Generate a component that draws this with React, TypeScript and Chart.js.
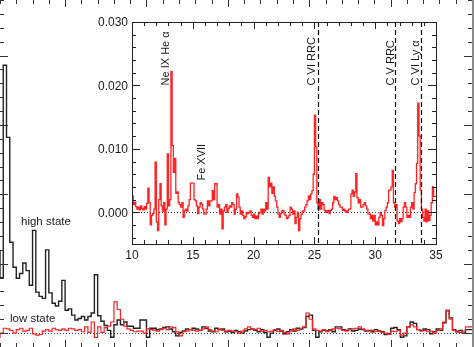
import React, { useEffect, useRef } from "react";
import { Chart, registerables } from "chart.js";
Chart.register(...registerables);

// ---------- main panel (wavelength in Å, 0.2 Å bins from 6.0 Å) ----------
const mainBinStart = 6.0;
const mainBinWidth = 0.2;
const highState = [
  12, 8, 38.6, 28.2, 13.1, // 6
  9.5, 7.9, 8.6, 10.1, 9.0, // 7
  6.9, 14.8, 5.9, 5.3, 5.0, // 8
  12.0, 5.8, 4.3, 3.9, 4.6, // 9
  7.6, 3.3, 3.5, 2.6, 1.9, // 10
  2.1, 2.4, 1.9, 2.4, 2.9, // 11
  8.4, 2.5, 1.7, 1.1, 0.4, // 12
  -0.6, 1.2, 1.9, 1.2, 1.6, // 13
  1.0, 1.0, 0.7, 0.7, 1.9, // 14
  1.9, -0.6, 0.7, 0.7, 0.5, // 15
  0.6, 0.8, 0.9, 0.6, 0.2, // 16
  -0.4, 0.1, 0.3, 0.6, 0.5, // 17
  0.7, 0.6, 0.4, 0.9, 0.7, // 18
  0.3, 0.2, 0.7, 0.5, 0.6, // 19
  0.2, 0.3, 0.1, 0.4, 0.2, // 20
  0.0, 0.3, 0.5, 0.6, 0.4, // 21
  0.2, 0.5, 0.1, -0.6, 0.0, // 22
  0.4, 0.6, 0.3, -0.1, 0.2, // 23
  0.5, 0.3, 0.7, 0.6, 0.8, // 24
  2.4, 2.6, 0.4, -0.6, 0.2, // 25
  0.4, 0.3, 0.5, 0.2, 0.9, // 26
  0.9, 0.5, 0.4, 0.6, 0.3, // 27
  0.4, 0.6, 0.5, 0.3, 0.4, // 28
  0.2, 0.5, 0.3, 0.2, -0.2, // 29
  -0.1, 0.7, 0.8, 0.5, -0.6, // 30
  -0.4, 0.9, 1.6, 1.4, 0.5, // 31
  0.4, 0.6, 0.5, -0.1, 0.2, // 32
  0.6, 0.4, 1.5, 3.2, 2.2, // 33
  0.5, 0.2, 0.4, 0.0, 0.5, // 34
];
const lowState = [
  -0.7, 0.0, 0.7, 0.6, 0.4, // 6
  0.0, 0.5, 0.7, 0.3, 0.4, // 7
  0.7, -0.1, -0.3, -0.2, 0.3, // 8
  0.5, 0.3, 0.7, 0.5, 0.4, // 9
  0.6, 0.4, 0.7, 0.6, 0.4, // 10
  0.5, 0.2, 0.9, 0.1, 1.6, // 11
  -0.6, 0.9, 0.1, 0.8, 1.0, // 12
  1.6, 4.5, 3.4, 2.0, 1.0, // 13
  0.6, 0.4, 0.2, 0.3, 0.3, // 14
  0.0, 0.6, 0.5, 0.4, 0.3, // 15
  0.5, 0.7, 0.5, 0.9, 0.8, // 16
  0.2, -0.4, 0.2, 0.3, 0.5, // 17
  0.4, 0.3, 0.4, 0.6, 0.9, // 18
  0.5, 0.3, 0.2, 0.6, 0.4, // 19
  0.3, 0.4, 0.3, 0.2, 0.0, // 20
  0.3, 0.6, 0.9, 0.6, 0.5, // 21
  0.7, 0.3, 0.4, 0.2, 0.3, // 22
  0.5, 0.2, 0.4, 0.1, -0.1, // 23
  0.3, 0.6, 0.4, 0.7, 0.9, // 24
  2.9, 2.0, 0.6, 0.4, 0.3, // 25
  0.5, 0.2, 0.4, 0.6, 0.7, // 26
  0.6, 0.4, 0.3, 0.5, 0.6, // 27
  0.7, 0.9, 0.6, 0.4, 0.3, // 28
  0.4, 0.2, 0.3, 0.1, 0.0, // 29
  -0.2, 0.3, 0.2, 0.4, -0.3, // 30
  0.0, 0.9, 1.2, 0.9, 0.5, // 31
  0.3, 0.4, 0.2, 0.3, 0.0, // 32
  0.4, 0.6, 1.6, 3.3, 2.0, // 33
  0.4, 0.3, 0.1, 0.3, 0.9, // 34
];
const mainXMin = 6;
const mainXMax = 35;
const mainYMin = -2;
const mainYMax = 48;
const stateLabels = ["high state", "low state"];
const stateLabelX = [7.29, 6.61];
const stateLabelY = [16, 2.0];

// ---------- inset (difference spectrum, 0.1 Å bins from 10 Å, values in 1e-3) ----------
const insetBinStart = 10.0;
const insetBinWidth = 0.1;
const insetFluxE3 = [
  1.5, 2.6, 1.2, 1.6, 0.9, 0.5, 0.8, 0.4, 1.0, 0.6, // 10
  0.4, 0.9, 0.5, 1.4, 3.8, 1.5, -2.0, -0.5, -0.2, 0.5, // 11
  7.9, -1.5, -2.9, 2.0, 4.5, 1.0, 0.2, 1.5, -2.0, 0.5, // 12
  9.2, 1.0, 2.0, 22.2, 10.5, 6.3, 8.5, 3.0, 3.2, 1.5, // 13
  1.2, 0.8, 1.5, -0.8, 0.3, 0.5, 0.2, 1.0, 2.0, 4.6, // 14
  4.6, 4.6, 2.0, 1.8, 1.0, -0.2, 0.8, 1.5, 1.3, 0.5, // 15
  -0.3, -0.3, 0.5, 1.8, 1.0, 1.8, 1.8, 3.4, 2.0, 4.5, // 16
  4.5, 0.8, 1.2, -0.3, 0.5, -2.6, 0.2, 0.8, 1.2, 0.0, // 17
  0.6, 1.0, 0.8, 1.5, 1.2, -0.3, 0.5, 2.9, 2.4, 0.8, // 18
  -0.3, 0.2, -0.5, -1.0, -0.7, 0.0, -0.2, 0.0, 0.2, -0.5, // 19
  -0.8, -0.3, -1.0, -0.6, -1.0, -0.2, 0.0, 0.5, -0.3, 0.5, // 20
  0.2, 1.5, 0.5, 5.5, 4.0, 4.6, 3.0, 4.0, 2.5, 1.8, // 21
  0.8, -0.3, -0.8, -0.2, 0.2, 0.3, -0.3, -0.5, -1.0, -0.8, // 22
  -0.5, 0.8, 0.5, -0.3, 0.2, -1.8, -0.8, 0.0, -2.9, -1.0, // 23
  -0.3, 0.2, 0.2, 0.8, 1.2, 1.8, 2.6, 2.0, 2.9, 3.4, // 24
  6.0, 15.3, 10.3, 1.5, 0.5, 2.0, 0.5, 1.5, 1.2, 0.3, // 25
  0.0, 0.2, 0.3, -0.2, 0.3, 0.5, 1.5, 2.5, 2.0, 2.3, // 26
  1.8, 1.2, 0.8, 0.8, 0.3, 0.5, 0.2, 0.0, 0.2, 0.5, // 27
  0.5, 2.9, 3.5, 2.5, 3.2, 6.1, 2.3, 1.5, 2.0, 0.8, // 28
  0.8, 1.2, 1.5, 1.0, 0.5, -0.3, -0.3, -1.0, -0.5, -1.4, // 29
  -0.5, -2.0, -1.5, -2.0, -0.8, 0.0, -0.5, -2.1, -1.0, 0.3, // 30
  0.8, 1.5, 3.5, 3.5, 4.0, 6.6, 1.5, 0.8, 1.2, -1.4, // 31
  -1.8, -1.0, -1.5, -1.0, 0.8, 1.5, 0.8, -0.8, -0.5, -0.8, // 32
  0.8, 1.5, 0.5, 3.1, 4.5, 7.7, 17.2, 12.0, 3.5, 0.5, // 33
  -0.8, -1.4, 0.5, -1.5, 0.2, -1.3, -0.5, 1.5, 4.0, 2.5, // 34
];
const insetXMin = 10;
const insetXMax = 35;
const insetYMin = -0.005;
const insetYMax = 0.03;
const insetXTickValues = [10, 15, 20, 25, 30, 35];
const insetXTickLabels = ["10", "15", "20", "25", "30", "35"];
const insetYTickValues = [0, 0.01, 0.02, 0.03];
const insetYTickLabels = ["0.000", "0.010", "0.020", "0.030"];
const edgeWavelengths = [25.3, 31.63, 33.74];
const lineLabels = ["Ne IX He α", "Fe XVII", "C VI RRC", "C V RRC", "C VI Ly α"];
const lineLabelX = [12.8, 15.76, 24.77, 31.33, 33.36];
const lineLabelY = [0.02, 0.005, 0.02, 0.02, 0.02];

const FONT = '"Liberation Sans", Arial, Helvetica, sans-serif';
const RED = "rgb(255,35,35)";
const INK = "#1a1a1a";

function histPoints(start: number, width: number, values: number[], k = 1) {
  const pts = values.map((v, i) => ({ x: start + i * width, y: v * k }));
  pts.push({ x: start + values.length * width, y: values[values.length - 1] * k });
  return pts;
}

function drawXTicks(ctx: any, sx: any, a: any, min: number, max: number, step: number, every: number, majLen: number, minLen: number, sides: string[]) {
  const k0 = Math.ceil(min / step - 1e-9);
  const k1 = Math.floor(max / step + 1e-9);
  ctx.beginPath();
  for (let k = k0; k <= k1; k++) {
    const px = Math.round(sx.getPixelForValue(k * step)) + 0.5;
    const len = k % every === 0 ? majLen : minLen;
    if (sides.includes("bottom")) { ctx.moveTo(px, a.bottom); ctx.lineTo(px, a.bottom - len); }
    if (sides.includes("top")) { ctx.moveTo(px, a.top); ctx.lineTo(px, a.top + len); }
  }
  ctx.stroke();
}

function drawYTicks(ctx: any, sy: any, a: any, min: number, max: number, step: number, every: number, majLen: number, minLen: number, sides: string[]) {
  const k0 = Math.ceil(min / step - 1e-9);
  const k1 = Math.floor(max / step + 1e-9);
  ctx.beginPath();
  for (let k = k0; k <= k1; k++) {
    const py = Math.round(sy.getPixelForValue(k * step)) + 0.5;
    const len = k % every === 0 ? majLen : minLen;
    if (sides.includes("left")) { ctx.moveTo(a.left, py); ctx.lineTo(a.left + len, py); }
    if (sides.includes("right")) { ctx.moveTo(a.right, py); ctx.lineTo(a.right - len, py); }
  }
  ctx.stroke();
}

const mainPlugin = {
  id: "mainFrame",
  beforeDatasetsDraw(chart: any) {
    const { ctx, chartArea: a, scales } = chart;
    const y0 = Math.round(scales.y.getPixelForValue(0)) + 0.5;
    ctx.save();
    ctx.strokeStyle = "#444";
    ctx.lineWidth = 1;
    ctx.setLineDash([1, 2]);
    ctx.beginPath();
    ctx.moveTo(a.left, y0);
    ctx.lineTo(a.right, y0);
    ctx.stroke();
    ctx.restore();
  },
  afterDraw(chart: any) {
    const { ctx, chartArea: a, scales } = chart;
    ctx.save();
    ctx.strokeStyle = "#333";
    ctx.lineWidth = 1;
    drawXTicks(ctx, scales.x, a, mainXMin, mainXMax, 1, 5, 7, 4, ["top", "bottom"]);
    drawYTicks(ctx, scales.y, a, mainYMin, mainYMax, 2, 5, 8, 4, ["left", "right"]);
    ctx.strokeStyle = "#8a8a8a";
    ctx.lineWidth = 2;
    ctx.beginPath();
    ctx.moveTo(a.right + 1, 0);
    ctx.lineTo(a.right + 1, chart.height);
    ctx.stroke();
    ctx.fillStyle = INK;
    ctx.font = `11.5px ${FONT}`;
    ctx.textAlign = "left";
    ctx.textBaseline = "middle";
    stateLabels.forEach((t, i) => {
      ctx.fillText(t, scales.x.getPixelForValue(stateLabelX[i]), scales.y.getPixelForValue(stateLabelY[i]));
    });
    ctx.restore();
  },
};

const insetPlugin = {
  id: "insetFrame",
  beforeDatasetsDraw(chart: any) {
    const { ctx, chartArea: a, scales } = chart;
    ctx.save();
    ctx.fillStyle = "#fff";
    ctx.fillRect(a.left, a.top, a.right - a.left, a.bottom - a.top);
    const y0 = Math.round(scales.y.getPixelForValue(0)) + 0.5;
    ctx.strokeStyle = "#333";
    ctx.lineWidth = 1;
    ctx.setLineDash([1, 2]);
    ctx.beginPath();
    ctx.moveTo(a.left, y0);
    ctx.lineTo(a.right, y0);
    ctx.stroke();
    ctx.restore();
  },
  afterDatasetsDraw(chart: any) {
    const { ctx, chartArea: a, scales } = chart;
    ctx.save();
    ctx.strokeStyle = "#111";
    ctx.lineWidth = 1.2;
    ctx.setLineDash([5, 3]);
    edgeWavelengths.forEach((w) => {
      const px = Math.round(scales.x.getPixelForValue(w)) + 0.5;
      ctx.beginPath();
      ctx.moveTo(px, a.top);
      ctx.lineTo(px, a.bottom);
      ctx.stroke();
    });
    ctx.restore();
  },
  afterDraw(chart: any) {
    const { ctx, chartArea: a, scales } = chart;
    ctx.save();
    ctx.strokeStyle = "#222";
    ctx.lineWidth = 1;
    ctx.strokeRect(Math.round(a.left) + 0.5, Math.round(a.top) + 0.5, Math.round(a.right - a.left), Math.round(a.bottom - a.top));
    drawXTicks(ctx, scales.x, a, insetXMin, insetXMax, 1, 5, 7, 4, ["top", "bottom"]);
    drawYTicks(ctx, scales.y, a, insetYMin, insetYMax, 0.002, 5, 8, 4, ["left", "right"]);
    ctx.fillStyle = INK;
    ctx.font = `12px ${FONT}`;
    ctx.textBaseline = "middle";
    ctx.textAlign = "center";
    insetXTickValues.forEach((v, i) => {
      ctx.fillText(insetXTickLabels[i], scales.x.getPixelForValue(v), a.bottom + 12);
    });
    ctx.textAlign = "right";
    insetYTickValues.forEach((v, i) => {
      ctx.fillText(insetYTickLabels[i], a.left - 4, scales.y.getPixelForValue(v) + 1);
    });
    ctx.font = `11px ${FONT}`;
    ctx.textAlign = "left";
    lineLabels.forEach((t, i) => {
      ctx.save();
      ctx.translate(scales.x.getPixelForValue(lineLabelX[i]), scales.y.getPixelForValue(lineLabelY[i]));
      ctx.rotate(-Math.PI / 2);
      ctx.fillText(t, 0, 0);
      ctx.restore();
    });
    ctx.restore();
  },
};

export default function App() {
  const mainRef = useRef<HTMLCanvasElement | null>(null);
  const insetRef = useRef<HTMLCanvasElement | null>(null);

  useEffect(() => {
    const main = new Chart(mainRef.current as HTMLCanvasElement, {
      type: "line",
      data: {
        datasets: [
          {
            label: "low state",
            data: histPoints(mainBinStart, mainBinWidth, lowState),
            borderColor: RED,
            borderWidth: 1.2,
            stepped: "after",
            pointRadius: 0,
            fill: false,
            order: 0,
          },
          {
            label: "high state",
            data: histPoints(mainBinStart, mainBinWidth, highState),
            borderColor: "#222",
            borderWidth: 1.4,
            stepped: "after",
            pointRadius: 0,
            fill: false,
            order: 1,
          },
        ],
      } as any,
      options: {
        animation: false,
        responsive: false,
        devicePixelRatio: 1,
        events: [],
        layout: { padding: { left: 0, top: 0, right: 2, bottom: 0 } },
        scales: {
          x: { type: "linear", min: mainXMin, max: mainXMax, display: false },
          y: { type: "linear", min: mainYMin, max: mainYMax, display: false },
        },
        plugins: { legend: { display: false }, tooltip: { enabled: false } },
      } as any,
      plugins: [mainPlugin],
    });

    const inset = new Chart(insetRef.current as HTMLCanvasElement, {
      type: "line",
      data: {
        datasets: [
          {
            label: "difference",
            data: histPoints(insetBinStart, insetBinWidth, insetFluxE3, 0.001),
            borderColor: RED,
            borderWidth: 1.3,
            stepped: "after",
            pointRadius: 0,
            fill: false,
          },
        ],
      } as any,
      options: {
        animation: false,
        responsive: false,
        devicePixelRatio: 1,
        events: [],
        layout: { padding: { left: 42, top: 12, right: 10, bottom: 26 } },
        scales: {
          x: { type: "linear", min: insetXMin, max: insetXMax, display: false },
          y: { type: "linear", min: insetYMin, max: insetYMax, display: false },
        },
        plugins: { legend: { display: false }, tooltip: { enabled: false } },
      } as any,
      plugins: [insetPlugin],
    });

    return () => {
      main.destroy();
      inset.destroy();
    };
  }, []);

  return (
    <div style={{ position: "fixed", left: 0, top: 0, width: 474, height: 347, background: "#fff", overflow: "hidden" }}>
      <canvas ref={mainRef} width={474} height={347} style={{ position: "absolute", left: 0, top: 0, width: 474, height: 347 }} />
      <canvas ref={insetRef} width={356} height={260} style={{ position: "absolute", left: 90, top: 10, width: 356, height: 260 }} />
    </div>
  );
}
